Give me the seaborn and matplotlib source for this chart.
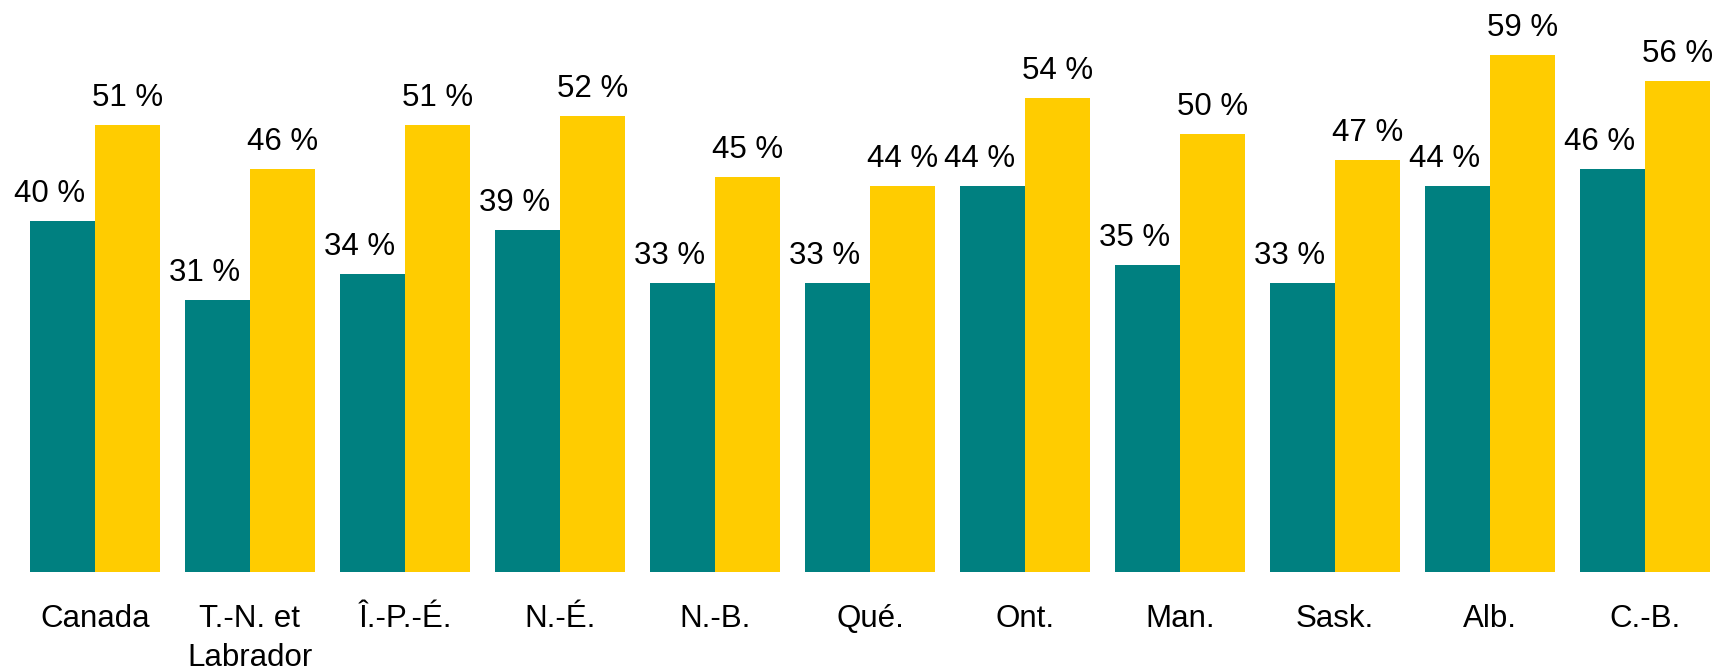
import pandas as pd
import matplotlib
matplotlib.use("Agg")
import matplotlib.pyplot as plt
import seaborn as sns

provinces = ["Canada", "T.-N. et\nLabrador", "Î.-P.-É.", "N.-É.", "N.-B.", "Qué.",
             "Ont.", "Man.", "Sask.", "Alb.", "C.-B."]
series_a = [40, 31, 34, 39, 33, 33, 44, 35, 33, 44, 46]
series_b = [51, 46, 51, 52, 45, 44, 54, 50, 47, 59, 56]
series_names = ["A", "B"]

sns.set_theme(style="white")
plt.rcParams["font.family"] = ["Liberation Sans", "DejaVu Sans"]

df = pd.DataFrame({
    "prov": provinces * 2,
    "value": series_a + series_b,
    "serie": [series_names[0]] * len(provinces) + [series_names[1]] * len(provinces),
})

fig = plt.figure(figsize=(17.24, 6.71), dpi=100)
ax = fig.add_axes([17.5 / 1724, 99 / 671, 1705 / 1724, 570 / 671])

palette = {"A": "#008080", "B": "#FFCC00"}
sns.barplot(data=df, x="prov", y="value", hue="serie", palette=palette,
            width=0.84, gap=0, linewidth=0, saturation=1, ax=ax, legend=False)

ax.set_ylim(0, 65)
ax.set_xlim(-0.5, len(provinces) - 0.5)
ax.set_xlabel("")
ax.set_ylabel("")
ax.set_yticks([])
for s in ax.spines.values():
    s.set_visible(False)
ax.tick_params(axis="x", length=0, pad=23, labelsize=22.5, labelcolor="black")
for lbl in ax.get_xticklabels():
    lbl.set_linespacing(1.4)

for i, container in enumerate(ax.containers):
    dx = -9.5 if i == 0 else 0
    for bar in container:
        h = bar.get_height()
        ax.annotate(f"{h:.0f} %", (bar.get_x() + bar.get_width() / 2, h),
                    xytext=(dx, 13.7), textcoords="offset points",
                    ha="center", va="baseline", fontsize=22.5, color="black")

fig.savefig("out.png", dpi=100)
